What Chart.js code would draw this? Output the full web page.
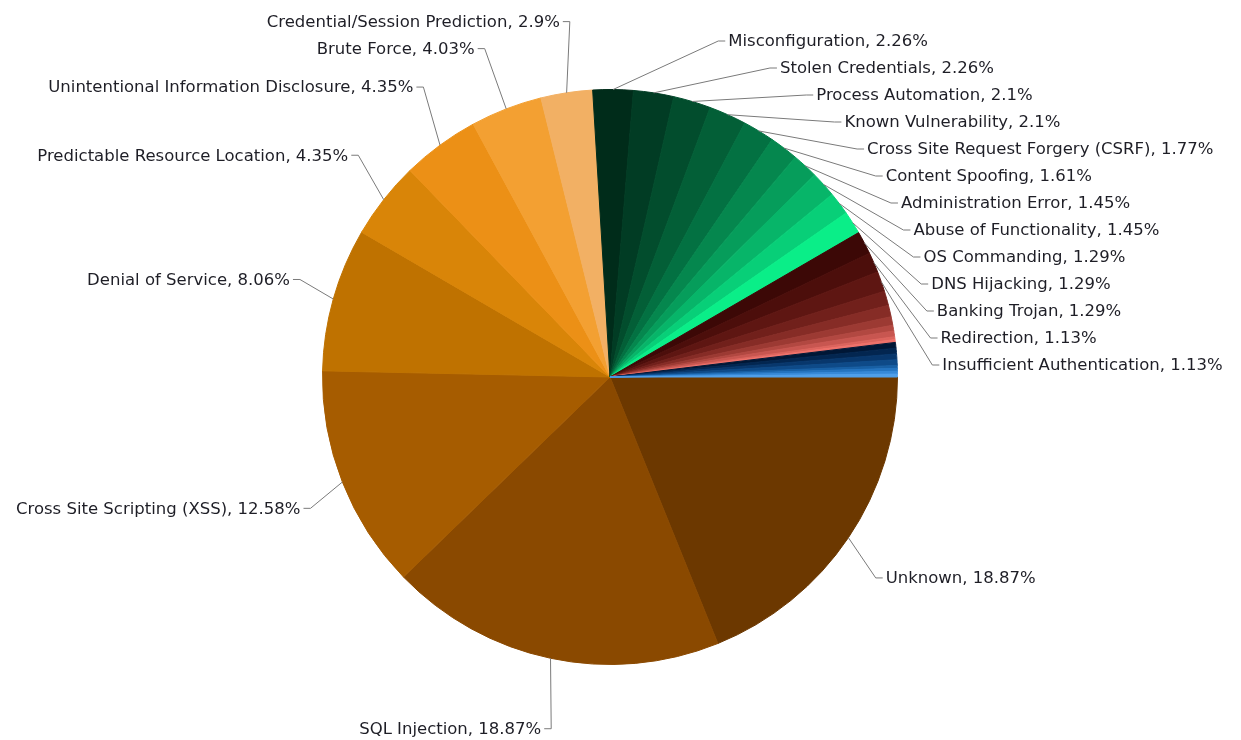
<!DOCTYPE html>
<html>
<head>
<meta charset="utf-8">
<title>Attack methods</title>
<script src="https://cdn.jsdelivr.net/npm/chart.js@4.4.1/dist/chart.umd.min.js"></script>
<style>
    body { margin: 0; background: #fff; }
    #pieChart { display: block; }
</style>
</head>
<body>
<canvas id="pieChart" width="1241" height="740"></canvas>
<script>
// Slices, clockwise from 3 o'clock. Empty names = small slices without a label.
const categories = [
    'Unknown', 'SQL Injection', 'Cross Site Scripting (XSS)', 'Denial of Service',
    'Predictable Resource Location', 'Unintentional Information Disclosure', 'Brute Force',
    'Credential/Session Prediction',
    'Misconfiguration', 'Stolen Credentials', 'Process Automation', 'Known Vulnerability',
    'Cross Site Request Forgery (CSRF)', 'Content Spoofing', 'Administration Error',
    'Abuse of Functionality', 'OS Commanding', 'DNS Hijacking',
    'Banking Trojan', 'Redirection', 'Insufficient Authentication',
    '', '', '', '', '', '', '',
    '', '', '', '', '', '', '', ''
];

const percents = [
    18.87, 18.87, 12.58, 8.06,
    4.35, 4.35, 4.03,
    2.9,
    2.26, 2.26, 2.1, 2.1,
    1.77, 1.61, 1.45,
    1.45, 1.29, 1.29,
    1.29, 1.13, 1.13,
    0.81, 0.65, 0.48, 0.32, 0.32, 0.16, 0.16,
    0.32, 0.32, 0.32, 0.32, 0.16, 0.16, 0.16, 0.16
];

const sliceColors = [
    // browns / oranges
    '#6c3800', '#8a4900', '#a65c00', '#bf7200', '#d98508', '#ec9016', '#f3a032', '#f2b064',
    // greens
    '#002c1a', '#013c24', '#024d2d', '#035f37', '#037142', '#05874e', '#069d5b', '#07b569', '#08cf78', '#0aee88',
    // reds
    '#3c0806', '#4c0e0b', '#5e1612', '#71201b', '#862c26', '#9c3a33', '#b24841', '#c85650', '#dc645d', '#ee716a',
    // blues
    '#001736', '#032650', '#08376c', '#0e4a88', '#175fa4', '#2474c0', '#3689d8', '#4f9fea'
];

// label layout (ellipse the label text sits on, relative to the pie)
const LABEL_DX = 45;      // horizontal reach beyond the radius
const LABEL_DY = 72;      // vertical reach beyond the radius
const LABEL_GAP = 27;     // min spacing between stacked labels
const RIGHT_TOP = 41;
const LEFT_TOP = 19;

const outsideLabels = {
    id: 'outsideLabels',
    afterDatasetsDraw(chart) {
        const ctx = chart.ctx;
        const meta = chart.getDatasetMeta(0);
        const items = [];
        let cx = 0, cy = 0, r = 0;

        meta.data.forEach((arc, i) => {
            if (!categories[i]) return;
            const p = arc.getProps(['x', 'y', 'startAngle', 'endAngle', 'outerRadius'], true);
            cx = p.x; cy = p.y; r = p.outerRadius;
            const mid = (p.startAngle + p.endAngle) / 2;
            items.push({
                text: categories[i] + ', ' + percents[i] + '%',
                right: Math.cos(mid) >= 0,
                ax: p.x + Math.cos(mid) * p.outerRadius,
                ay: p.y + Math.sin(mid) * p.outerRadius,
                ty: p.y + Math.sin(mid) * (p.outerRadius + LABEL_DY)
            });
        });

        const A = r + LABEL_DX, B = r + LABEL_DY;

        // push overlapping labels down, per side
        [true, false].forEach(side => {
            const list = items.filter(it => it.right === side).sort((a, b) => a.ty - b.ty);
            let prev = -Infinity;
            const top = side ? RIGHT_TOP : LEFT_TOP;
            list.forEach(it => {
                it.ty = Math.max(it.ty, prev + LABEL_GAP, top);
                prev = it.ty;
            });
        });

        ctx.save();
        ctx.font = '16.5px "DejaVu Sans", sans-serif';
        ctx.textBaseline = 'middle';
        ctx.strokeStyle = '#7a7a7a';
        ctx.lineWidth = 1;
        ctx.fillStyle = '#1e1e26';

        items.forEach(it => {
            const k = Math.max(-1, Math.min(1, (it.ty - cy) / B));
            const off = A * Math.sqrt(1 - k * k);
            const dir = it.right ? 1 : -1;
            const tx = cx + dir * off;
            const bx = tx - dir * 10;

            ctx.beginPath();
            ctx.moveTo(it.ax, it.ay);
            ctx.lineTo(bx, it.ty);
            ctx.lineTo(tx - dir * 3, it.ty);
            ctx.stroke();

            ctx.textAlign = it.right ? 'left' : 'right';
            ctx.fillText(it.text, tx, it.ty + 1);
        });
        ctx.restore();
    }
};

new Chart(document.getElementById('pieChart').getContext('2d'), {
    type: 'pie',
    data: {
        labels: categories,
        datasets: [{
            data: percents,
            backgroundColor: sliceColors,
            borderColor: sliceColors,
            borderWidth: 1,
            hoverOffset: 0
        }]
    },
    options: {
        responsive: false,
        animation: false,
        rotation: 90,
        layout: { padding: { left: 322, right: 343, top: 89, bottom: 75 } },
        plugins: {
            legend: { display: false },
            tooltip: { enabled: false }
        }
    },
    plugins: [outsideLabels]
});
</script>
</body>
</html>
